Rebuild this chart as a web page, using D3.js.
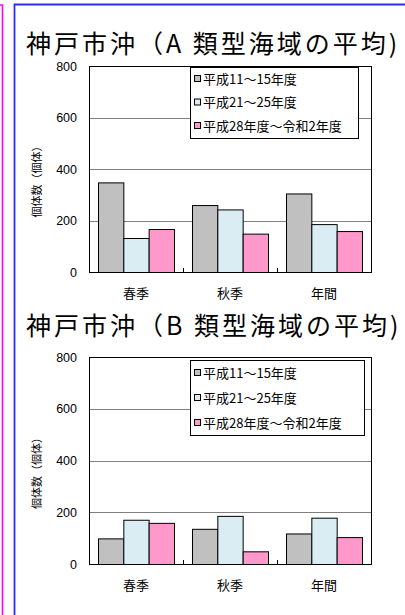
<!DOCTYPE html>
<html><head><meta charset="utf-8">
<script src="https://cdn.jsdelivr.net/npm/d3@7"></script>
<style>html,body{margin:0;padding:0;background:#fff;}svg{display:block;}</style>
</head><body>
<svg id="c" width="405" height="615"></svg>
<script>
const categories = ["春季", "秋季", "年間"];
const seriesNames = ["平成11～15年度", "平成21～25年度", "平成28年度～令和2年度"];
const seriesColors = ["#c0c0c0", "#daedf3", "#ff99cc"];
const yTicks = [0, 200, 400, 600, 800];
const titleA = "神戸市沖（A 類型海域の平均)";
const titleB = "神戸市沖（B 類型海域の平均)";
const yTitle = "個体数（個体）";
// series x category
const valuesA = [[348, 260, 305], [132, 243, 186], [167, 149, 159]];
const valuesB = [[99, 136, 118], [171, 186, 179], [159, 49, 104]];

const svg = d3.select("#c");
const jp = "'Noto Sans CJK JP','Noto Sans',sans-serif";
const num = "'Liberation Sans',Arial,sans-serif";

// frames
svg.append("path").attr("d","M0,5 H2.5 V615").attr("fill","none").attr("stroke","#ff00ff").attr("stroke-width",1.6);
svg.append("path").attr("d","M405,4.5 H14.5 V615").attr("fill","none").attr("stroke","#2a2aff").attr("stroke-width",1.8);

function drawChart(cfg) {
  const g = svg.append("g");
  const x = d3.scaleBand().domain(categories).range([cfg.left, cfg.right]).paddingInner(0.1915).paddingOuter(0.0957);
  const xs = d3.scaleBand().domain(d3.range(seriesNames.length)).range([0, x.bandwidth()]);
  const y = d3.scaleLinear().domain([0, 800]).range([cfg.bottom, cfg.top]);

  g.append("text").attr("x", 26).attr("y", cfg.titleY).attr("font-family", jp).attr("font-size", 25)
    .attr("letter-spacing", 3).attr("fill", "#000").text(cfg.title);

  g.append("rect").attr("x", cfg.left).attr("y", cfg.top).attr("width", cfg.right - cfg.left)
    .attr("height", cfg.bottom - cfg.top).attr("fill", "#fff");
  g.append("g").selectAll("line").data(yTicks.filter(t => t > 0 && t < 800)).join("line")
    .attr("x1", cfg.left).attr("x2", cfg.right).attr("y1", d => Math.round(y(d)) + 0.5).attr("y2", d => Math.round(y(d)) + 0.5)
    .attr("stroke", "#808080").attr("stroke-width", 1);

  seriesNames.forEach((s, si) => {
    g.append("g").selectAll("rect").data(cfg.values[si]).join("rect")
      .attr("x", (d, i) => x(categories[i]) + xs(si) + 0.5)
      .attr("y", d => y(d) + 0.5)
      .attr("width", xs.bandwidth())
      .attr("height", d => cfg.bottom - y(d))
      .attr("fill", seriesColors[si]).attr("stroke", "#000").attr("stroke-width", 1);
  });

  g.append("rect").attr("x", cfg.left + 0.5).attr("y", cfg.top + 0.5).attr("width", cfg.right - cfg.left)
    .attr("height", cfg.bottom - cfg.top).attr("fill", "none").attr("stroke", "#000").attr("stroke-width", 1);

  const bounds = categories.slice(1).map(c => x(c) - x.step() * x.paddingInner() / 2);
  g.append("g").selectAll("line").data(bounds).join("line")
    .attr("x1", d => Math.round(d) + 0.5).attr("x2", d => Math.round(d) + 0.5)
    .attr("y1", cfg.bottom).attr("y2", cfg.bottom - 4).attr("stroke", "#000");

  g.append("g").selectAll("text").data(yTicks).join("text")
    .attr("x", cfg.left - 12).attr("y", d => y(d) + 4.5).attr("text-anchor", "end")
    .attr("font-family", num).attr("font-size", 12.5).attr("fill", "#000").text(d => d);

  g.append("g").selectAll("text").data(categories).join("text")
    .attr("x", d => x(d) + x.bandwidth() / 2).attr("y", cfg.bottom + 26).attr("text-anchor", "middle")
    .attr("font-family", jp).attr("font-size", 13).attr("fill", "#000").text(d => d);

  const cy = (cfg.top + cfg.bottom) / 2 + 10;
  g.append("text").attr("transform", `translate(41,${cy}) rotate(-90)`).attr("text-anchor", "middle")
    .attr("font-family", jp).attr("font-size", 11).attr("fill", "#000").text(yTitle);

  const L = cfg.legend;
  g.append("rect").attr("x", L.x + 0.5).attr("y", L.y + 0.5).attr("width", L.w).attr("height", L.h)
    .attr("fill", "#fff").attr("stroke", "#000");
  seriesNames.forEach((s, si) => {
    const ry = L.y + L.row0 + si * L.rowH;
    g.append("rect").attr("x", L.x + 4.5).attr("y", ry - 3.5).attr("width", 6).attr("height", 6)
      .attr("fill", seriesColors[si]).attr("stroke", "#000");
    g.append("text").attr("x", L.x + 13).attr("y", ry + 4.5).attr("font-family", jp).attr("font-size", 13)
      .attr("fill", "#000").text(s);
  });
}

drawChart({ title: titleA, titleY: 53, left: 89, right: 371, top: 66, bottom: 272, values: valuesA,
  legend: { x: 190, y: 67, w: 168, h: 71, row0: 12, rowH: 23.5 } });
drawChart({ title: titleB, titleY: 335, left: 89, right: 371, top: 357, bottom: 564, values: valuesB,
  legend: { x: 190, y: 360, w: 174, h: 75, row0: 13, rowH: 25 } });
</script>
</body></html>
